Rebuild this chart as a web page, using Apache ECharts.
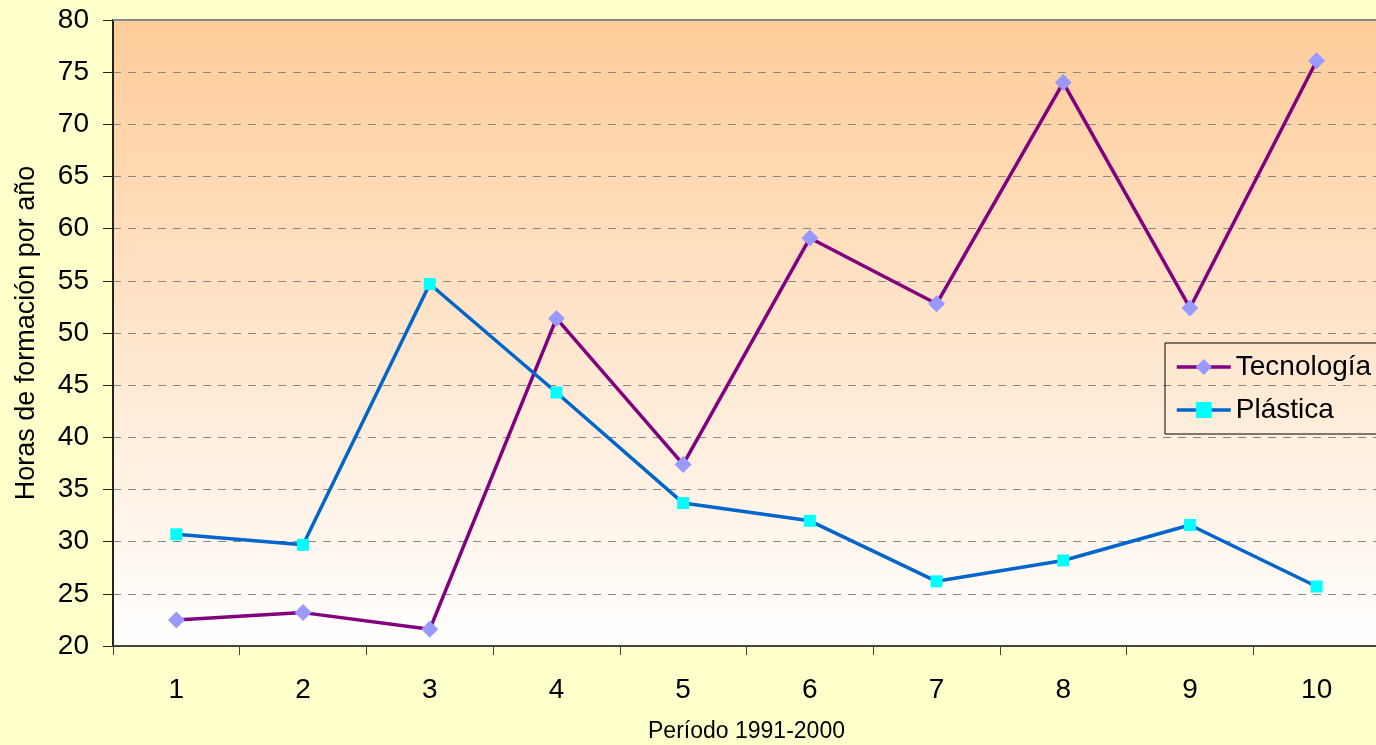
<!DOCTYPE html>
<html>
<head>
<meta charset="utf-8">
<script src="https://cdn.jsdelivr.net/npm/echarts@6/dist/echarts.min.js"></script>
<style>
  html, body { margin: 0; padding: 0; background: #FFFFCC; }
  #chart { width: 1376px; height: 745px; }
</style>
</head>
<body>
<div id="chart"></div>
<script>
// Años del período (1 = 1991 … 10 = 2000)
const categories = ['1', '2', '3', '4', '5', '6', '7', '8', '9', '10'];
// Horas de formación por año
const tecnologia = [22.5, 23.2, 21.6, 51.4, 37.4, 59.1, 52.8, 74.0, 52.4, 76.1];
const plastica = [30.7, 29.7, 54.7, 44.3, 33.7, 32.0, 26.2, 28.2, 31.6, 25.7];

const chart = echarts.init(document.getElementById('chart'));
const font = 'Liberation Sans, Arial, sans-serif';

chart.setOption({
  backgroundColor: '#FFFFCC',
  animation: false,
  textStyle: { fontFamily: font },
  grid: {
    left: 113, right: -4, top: 20, bottom: 99,
    outerBoundsMode: 'none',
    containLabel: false,
    show: true,
    borderWidth: 0,
    backgroundColor: {
      type: 'linear', x: 0, y: 0, x2: 0, y2: 1,
      colorStops: [
        { offset: 0, color: '#FFCC99' },
        { offset: 1, color: '#FFFFFF' }
      ]
    }
  },
  legend: {
    orient: 'vertical',
    left: 1165,
    top: 343,
    padding: [10, 40, 10, 10],
    itemGap: 15,
    itemWidth: 54,
    itemHeight: 20,
    borderColor: '#000000',
    borderWidth: 1,
    backgroundColor: 'transparent',
    lineStyle: { width: 3.5 },
    textStyle: { fontSize: 28, color: '#000000', fontFamily: font },
    data: ['Tecnología', 'Plástica']
  },
  xAxis: {
    type: 'category',
    data: categories,
    boundaryGap: true,
    name: 'Período 1991-2000',
    nameLocation: 'middle',
    nameGap: 74,
    nameTextStyle: { fontSize: 23, color: '#000000', fontFamily: font },
    axisLine: { lineStyle: { color: '#444444', width: 2 } },
    axisTick: { show: true, length: 9, lineStyle: { color: '#444444', width: 1 } },
    axisLabel: { fontSize: 28, color: '#000000', margin: 30, fontFamily: font },
    splitLine: { show: false }
  },
  yAxis: {
    type: 'value',
    min: 20,
    max: 80,
    interval: 5,
    name: 'Horas de formación por año',
    nameLocation: 'middle',
    nameGap: 73,
    nameRotate: 90,
    nameTextStyle: { fontSize: 27, color: '#000000', fontFamily: font },
    axisLine: { show: true, lineStyle: { color: '#222222', width: 2 } },
    axisTick: { show: true, length: 10, lineStyle: { color: '#222222', width: 1 } },
    axisLabel: { fontSize: 28, color: '#000000', margin: 24, fontFamily: font },
    splitLine: { show: true, lineStyle: { color: '#888888', type: [8, 7], width: 1 } }
  },
  series: [
    {
      name: 'Tecnología',
      type: 'line',
      data: tecnologia,
      symbol: 'diamond',
      symbolSize: 17,
      lineStyle: { color: '#800080', width: 3.5 },
      itemStyle: { color: '#9999FF' }
    },
    {
      name: 'Plástica',
      type: 'line',
      data: plastica,
      symbol: 'rect',
      symbolSize: 12,
      lineStyle: { color: '#0066CC', width: 3.5 },
      itemStyle: { color: '#00FFFF' }
    }
  ],
  graphic: [
    {
      type: 'line',
      shape: { x1: 113, y1: 20, x2: 1376, y2: 20 },
      style: { stroke: '#888888', lineWidth: 2 },
      z: 10
    }
  ]
});
</script>
</body>
</html>
